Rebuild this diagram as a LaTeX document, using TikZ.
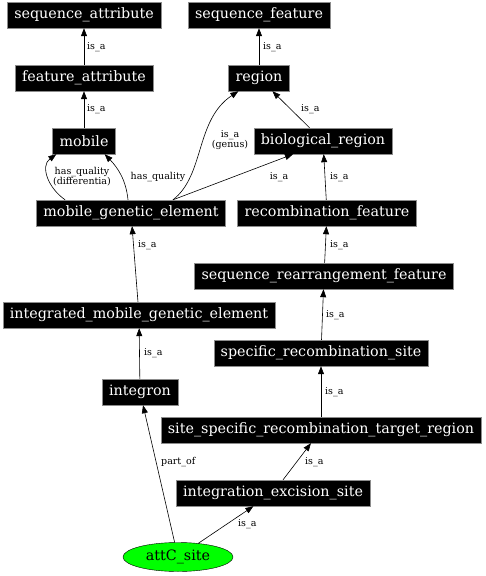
\documentclass[tikz,border=0pt]{standalone}
\usepackage{fontspec}
\setmainfont{DejaVu Serif}
\usetikzlibrary{shapes,arrows.meta,calc}

\begin{document}
\begin{tikzpicture}[x=1pt, y=-1pt,
    term/.style={rectangle, draw=black!45, fill=black, text=white, inner xsep=7pt, inner ysep=0pt, minimum height=26pt, font=\fontsize{14.3}{16}\selectfont},
    leaf/.style={ellipse, draw=black, fill=green, text=black, minimum width=110pt, minimum height=29pt, inner sep=0pt, font=\fontsize{14.3}{16}\selectfont},
    arrow/.style={-{Triangle[length=8pt,width=6pt]}, line width=0.6pt},
    rel/.style={font=\fontsize{9.5}{10}\selectfont, anchor=west, inner sep=0pt, align=center}
]
    \useasboundingbox (0,0) rectangle (485,576);

    % Left: attribute branch
    \node[term] (seqattr) at (84,15)  {sequence\_attribute};
    \node[term] (featattr) at (84,78) {feature\_attribute};
    \node[term] (mobile) at (84,141)  {mobile};
    \node[term] (mge) at (131,213)    {mobile\_genetic\_element};
    \node[term] (imge) at (139,315)   {integrated\_mobile\_genetic\_element};
    \node[term] (integron) at (140,392) {integron};

    % Right: feature branch
    \node[term] (seqfeat) at (259,15) {sequence\_feature};
    \node[term] (region) at (259,78)  {region};
    \node[term] (bioreg) at (323,141) {biological\_region};
    \node[term] (recomb) at (327,213) {recombination\_feature};
    \node[term] (rearr) at (324,276)  {sequence\_rearrangement\_feature};
    \node[term] (specrec) at (321,353) {specific\_recombination\_site};
    \node[term] (target) at (321,430) {site\_specific\_recombination\_target\_region};
    \node[term] (intexc) at (273,493) {integration\_excision\_site};

    % Leaf
    \node[leaf] (attc) at (178,557) {attC\_site};

    % Arrows: left branch
    \draw[arrow] (featattr) -- (seqattr);
    \draw[arrow] (mobile) -- (featattr);
    \draw[arrow] ($(mge.north west)+(29,0)$) .. controls (48,188) and (40,166) .. ($(mobile.south west)+(4,0)$);
    \draw[arrow] ($(mge.north)+(-3,0)$) .. controls (126,180) and (118,168) .. ($(mobile.south east)+(-11,0)$);
    \draw[arrow] (imge) -- (mge);
    \draw[arrow] (integron) -- (imge);
    \draw[arrow] (attc) -- (integron);

    % Arrows: right branch
    \draw[arrow] (region) -- (seqfeat);
    \draw[arrow] (bioreg) -- (region);
    \draw[arrow] ($(mge.north)+(42,0)$) .. controls (205,175) and (195,120) .. ($(region.south west)+(10,0)$);
    \draw[arrow] ($(mge.north)+(42,0)$) -- ($(bioreg.south)+(-30,0)$);
    \draw[arrow] (recomb) -- (bioreg);
    \draw[arrow] (rearr) -- (recomb);
    \draw[arrow] (specrec) -- (rearr);
    \draw[arrow] (target) -- (specrec);
    \draw[arrow] (intexc) -- (target);
    \draw[arrow] (attc) -- (intexc);

    % Labels
    \node[rel] (l1) at (87,47) {is\_a};
    \node[rel] (l2) at (87,109) {is\_a};
    \node[rel] (l3) at (263,47) {is\_a};
    \node[rel] (l4) at (301,109) {is\_a};
    \node[rel, anchor=center] (l5) at (230,140) {is\_a\\(genus)};
    \node[rel, anchor=center] (l6) at (82,177) {has\_quality\\(differentia)};
    \node[rel, anchor=center] (l7) at (158,177) {has\_quality};
    \node[rel, anchor=center] (l8) at (279,177) {is\_a};
    \node[rel] (l9) at (330,177) {is\_a};
    \node[rel] (l10) at (138,245) {is\_a};
    \node[rel] (l11) at (330,245) {is\_a};
    \node[rel] (l12) at (326,315) {is\_a};
    \node[rel] (l13) at (144,353) {is\_a};
    \node[rel] (l14) at (325,392) {is\_a};
    \node[rel] (l15) at (161,462) {part\_of};
    \node[rel] (l16) at (305,462) {is\_a};
    \node[rel] (l17) at (238,524) {is\_a};
\end{tikzpicture}
\end{document}
